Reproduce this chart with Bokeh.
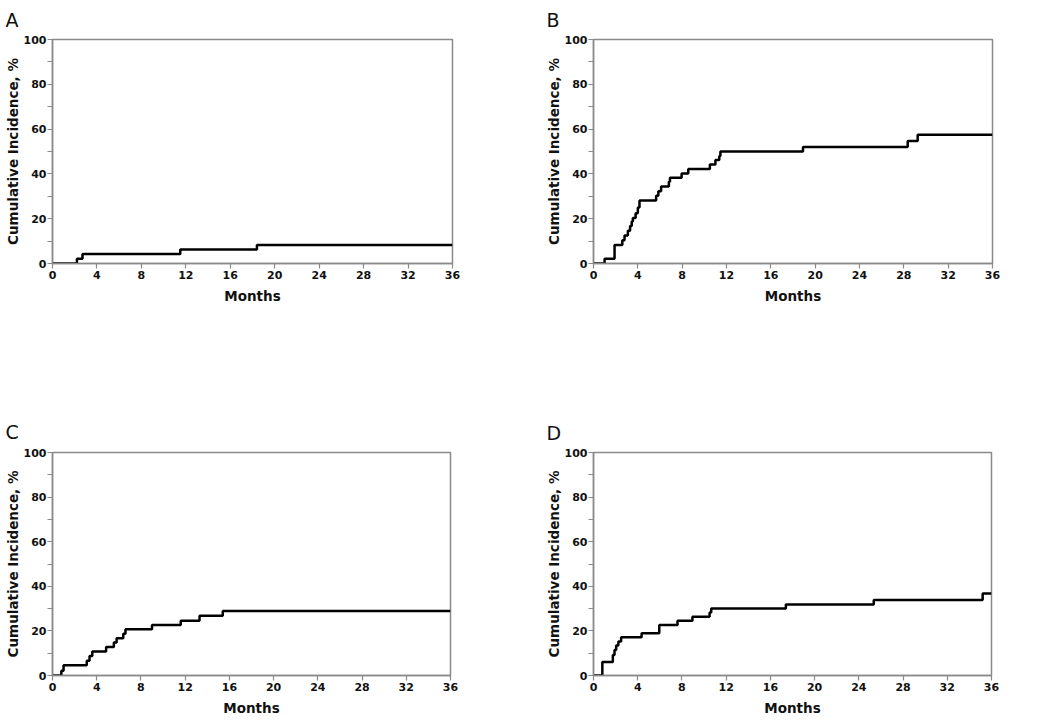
from bokeh.plotting import figure
from bokeh.layouts import column, row
from bokeh.models import Range1d, FixedTicker
from bokeh.embed import file_html
from bokeh.resources import INLINE

# ---------------- data ----------------
x_ticks = [0, 4, 8, 12, 16, 20, 24, 28, 32, 36]
y_ticks = [0, 20, 40, 60, 80, 100]
y_minor = [10, 30, 50, 70, 90]
end_month = 36

A_months = [0, 2.2, 2.7, 11.5, 18.4]
A_inc = [0, 2.1, 4.2, 6.3, 8.3]

B_months = [0, 1.0, 1.9, 2.6, 2.8, 3.1, 3.3, 3.45, 3.55, 3.8, 4.0, 4.15, 5.65, 5.85,
            6.1, 6.8, 6.9, 7.95, 8.55, 10.5, 11.0, 11.35, 11.45, 18.9, 28.35, 29.25]
B_inc = [0, 2.1, 8.3, 10.4, 12.5, 14.6, 16.7, 18.8, 20.3, 22.4, 25.0, 28.1, 30.2, 32.3,
         34.4, 36.5, 38.3, 40.2, 42.2, 44.2, 46.2, 48.0, 50.0, 52.0, 54.7, 57.5]

C_months = [0, 0.8, 1.0, 3.1, 3.35, 3.6, 4.85, 5.55, 5.8, 6.4, 6.6, 9.0, 11.6, 13.3, 15.4]
C_inc = [0, 2.1, 4.6, 6.6, 8.7, 10.8, 12.8, 14.8, 16.7, 18.7, 20.7, 22.6, 24.6, 26.8, 28.9]

D_months = [0, 0.8, 1.75, 1.9, 2.05, 2.25, 2.5, 4.35, 5.95, 7.6, 8.95, 10.5, 10.65,
            17.4, 25.35, 35.2]
D_inc = [0, 6.1, 9.2, 11.4, 13.4, 15.3, 17.1, 18.9, 22.7, 24.5, 26.3, 28.3, 30.0,
         31.8, 33.9, 36.8]

panel_letters = ["A", "B", "C", "D"]
x_title = "Months"
y_title = "Cumulative Incidence, %"

GREY = "#8a8a8a"
FONT = "DejaVu Sans"


def panel(letter, months, inc, width, height, bl, br, bt, bb, title_standoff):
    p = figure(width=width, height=height, output_backend="svg", toolbar_location=None,
               x_range=Range1d(0, end_month), y_range=Range1d(0, 100),
               min_border_left=bl, min_border_right=br, min_border_top=bt,
               min_border_bottom=bb, title=letter)
    xs = list(months) + [end_month]
    ys = list(inc) + [inc[-1]]
    p.step(xs, ys, mode="after", line_color="black", line_width=2.5)

    p.title.text_font = FONT
    p.title.text_font_style = "normal"
    p.title.text_font_size = "19px"
    p.title.text_color = "#111111"
    p.title.align = "left"
    p.title.offset = -47
    p.title.vertical_align = "top"
    p.title.standoff = title_standoff

    p.grid.visible = False
    p.outline_line_color = GREY
    p.outline_line_width = 1.5
    p.background_fill_color = "white"
    p.border_fill_color = "white"

    for ax in (p.xaxis[0], p.yaxis[0]):
        ax.axis_line_color = GREY
        ax.axis_line_width = 1.5
        ax.major_tick_line_color = GREY
        ax.minor_tick_line_color = GREY
        ax.major_tick_line_width = 1.2
        ax.minor_tick_line_width = 1.2
        ax.major_tick_in = 0
        ax.major_tick_out = 5
        ax.minor_tick_in = 0
        ax.minor_tick_out = 5
        ax.major_label_text_font = FONT
        ax.major_label_text_font_style = "bold"
        ax.major_label_text_font_size = "11px"
        ax.major_label_text_color = "#111111"
        ax.axis_label_text_font = FONT
        ax.axis_label_text_font_style = "bold"
        ax.axis_label_text_font_size = "13.5px"
        ax.axis_label_text_color = "#111111"
    p.xaxis.major_label_standoff = 2
    p.yaxis.major_label_standoff = 1
    p.xaxis.axis_label_standoff = 6
    p.yaxis.axis_label_standoff = 0

    p.xaxis.ticker = FixedTicker(ticks=x_ticks)
    p.yaxis.ticker = FixedTicker(ticks=y_ticks, minor_ticks=y_minor)
    p.xaxis.axis_label = x_title
    p.yaxis.axis_label = y_title
    return p


# row 1: frames at y 39..264 ; row 2 starts at y=400, frames at 452..675
pA = panel(panel_letters[0], A_months, A_inc, 540, 400, 52, 88, 39, 136, 13)
pB = panel(panel_letters[1], B_months, B_inc, 462, 400, 53, 10, 39, 137, 13)
pC = panel(panel_letters[2], C_months, C_inc, 540, 321, 52, 90, 52, 46, 15)
pD = panel(panel_letters[3], D_months, D_inc, 462, 321, 53, 11, 52, 46, 13)

layout = column(row(pA, pB), row(pC, pD))

open("out.html", "w").write(file_html(layout, INLINE))
